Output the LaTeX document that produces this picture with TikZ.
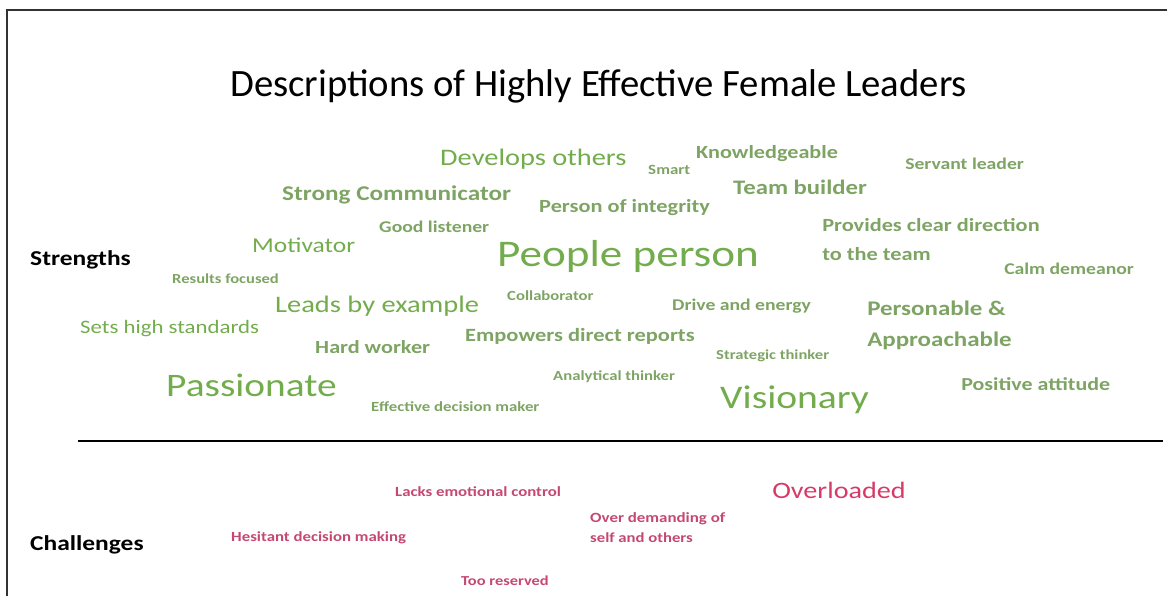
\documentclass[tikz,border=0pt]{standalone}
\usepackage{fontspec}
\setmainfont{Carlito}
\definecolor{leafgreen}{RGB}{114,172,76}
\definecolor{sagegreen}{RGB}{126,164,100}
\definecolor{rosered}{RGB}{214,58,102}
\definecolor{dullrose}{RGB}{196,72,112}
\definecolor{framegray}{RGB}{50,50,50}
\begin{document}
\begin{tikzpicture}
	[x=1pt,y=-1pt,every node/.style={anchor=base west,inner sep=0pt},
	strength/.style={text=sagegreen,xscale=1.2},
	bigstrength/.style={text=leafgreen,xscale=1.2},
	challenge/.style={text=dullrose,xscale=1.2},
	heading/.style={text=black,xscale=1.2,font=\fontsize{21.2}{22}\selectfont\bfseries},
	fs/.style={font=\fontsize{#1}{#1}\selectfont},
	fsb/.style={font=\fontsize{#1}{#1}\selectfont\bfseries}]
	\useasboundingbox (0,0) rectangle (1167,596);

	% frame and divider
	\coordinate (fa) at (7,596);
	\coordinate (fb) at (7,10);
	\coordinate (fc) at (1167,10);
	\draw[framegray,line width=2pt] (fa) -- (fb) -- (fc);
	\coordinate (d1) at (78,441);
	\coordinate (d2) at (1163,441);
	\draw[line width=1.5pt] (d1) -- (d2);

	\node (title) at (230,97) {\fontsize{38.7}{40}\selectfont Descriptions of Highly Effective Female Leaders};
	\node[heading] (str) at (30,265) {Strengths};
	\node[heading] (chal) at (30,550) {Challenges};

	% strengths
	\node[bigstrength,fs=23.7] (devel) at (440,166) {Develops others};
	\node[strength,fsb=14.1] (smart) at (648,175) {Smart};
	\node[strength,fsb=18.5] (knowl) at (696,159) {Knowledgeable};
	\node[strength,fsb=16.4] (servant) at (905,170) {Servant leader};
	\node[strength,fsb=21] (comm) at (282,201) {Strong Communicator};
	\node[strength,fsb=20.6] (team) at (733,195) {Team builder};
	\node[strength,fsb=18.6] (integ) at (539,213) {Person of integrity};
	\node[strength,fsb=16.4] (listen) at (379,233) {Good listener};
	\node[strength,fsb=18.6] (direc) at (822,232) {Provides clear direction};
	\node[strength,fsb=18.6] (direc2) at (822,260) {to the team};
	\node[bigstrength,fs=21.2] (motiv) at (252,252) {Motivator};
	\node[bigstrength,fs=37.6] (people) at (497,266) {People person};
	\node[strength,fsb=16.4] (calm) at (1004,274) {Calm demeanor};
	\node[strength,fsb=13.8] (results) at (172,283) {Results focused};
	\node[bigstrength,fs=23.7] (leads) at (275,312) {Leads by example};
	\node[strength,fsb=13.9] (collab) at (507,300) {Collaborator};
	\node[strength,fsb=16.4] (drive) at (672,310) {Drive and energy};
	\node[strength,fsb=20.8] (persona) at (867,315) {Personable \&};
	\node[strength,fsb=20.8] (approach) at (867,346) {Approachable};
	\node[bigstrength,fs=19] (sets) at (80,333) {Sets high standards};
	\node[strength,fsb=18.7] (empow) at (465,341) {Empowers direct reports};
	\node[strength,fsb=18.5] (hard) at (315,353) {Hard worker};
	\node[strength,fsb=13.8] (strat) at (716,359) {Strategic thinker};
	\node[strength,fsb=13.9] (analyt) at (553,380) {Analytical thinker};
	\node[bigstrength,fs=32.8] (passion) at (166,396) {Passionate};
	\node[bigstrength,fs=33] (vision) at (720,408) {Visionary};
	\node[strength,fsb=18.3] (positive) at (961,390) {Positive attitude};
	\node[strength,fsb=14] (effect) at (371,411) {Effective decision maker};

	% challenges
	\node[challenge,fsb=14] (lacks) at (395,496) {Lacks emotional control};
	\node[challenge,text=rosered,fs=23.5] (overl) at (772,498) {Overloaded};
	\node[challenge,fsb=14.1] (demand) at (590,522) {Over demanding of};
	\node[challenge,fsb=13.9] (demand2) at (590,542) {self and others};
	\node[challenge,fsb=14] (hesit) at (231,541) {Hesitant decision making};
	\node[challenge,fsb=13.7] (reserv) at (461,585) {Too reserved};
\end{tikzpicture}
\end{document}
